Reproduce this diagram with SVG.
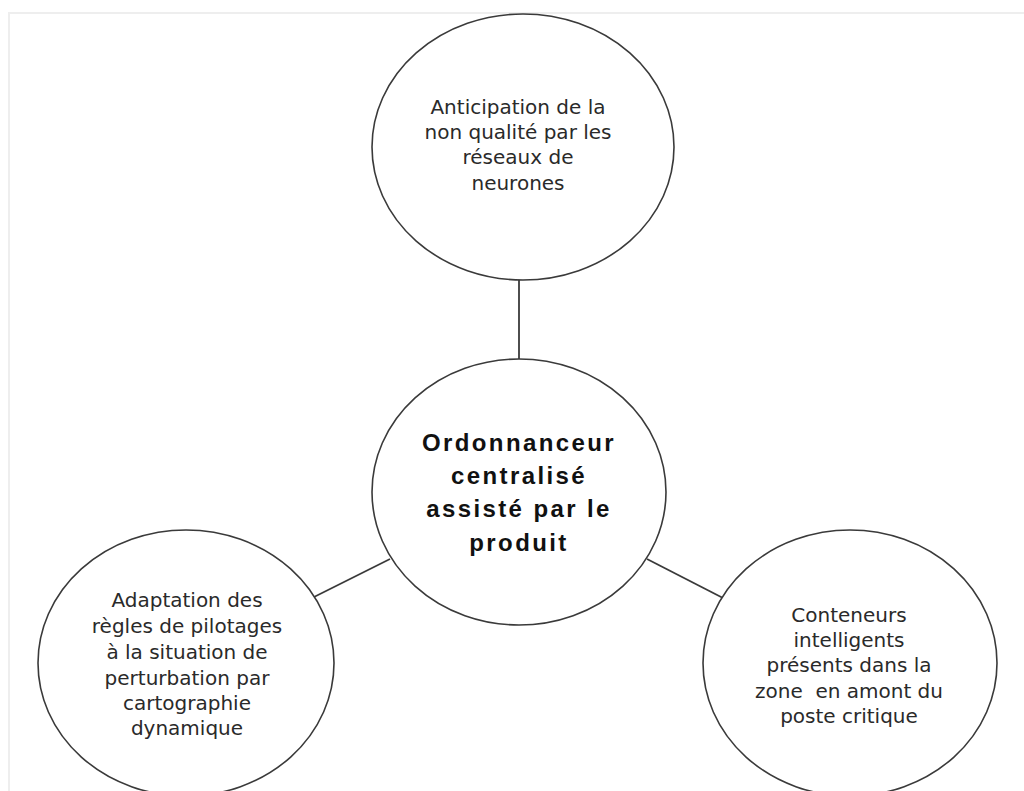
<svg xmlns="http://www.w3.org/2000/svg" width="1024" height="791" viewBox="0 0 1024 791">
<style>
.node{fill:#ffffff;stroke:#3a3a3a;stroke-width:1.6}
.edge{stroke:#3a3a3a;stroke-width:1.8;fill:none}
.lbl{font-family:"DejaVu Sans","Liberation Sans",sans-serif;font-size:20px;fill:#2a2a2a;text-anchor:middle}
.main{font-family:"Liberation Sans",Arial,sans-serif;font-size:24px;font-weight:bold;fill:#111;text-anchor:middle;letter-spacing:2.4px}
</style>
<rect x="0" y="0" width="1024" height="791" fill="#ffffff"/>
<path d="M9 791 V13 H1024" fill="none" stroke="#eeeeee" stroke-width="2"/>
<g id="connectors">
<line class="edge" x1="519" y1="279" x2="519" y2="360"/>
<line class="edge" x1="314" y1="597" x2="390" y2="559"/>
<line class="edge" x1="647" y1="559" x2="723" y2="598"/>
</g>
<g id="node-top">
<ellipse class="node" cx="523" cy="147" rx="151" ry="133"/>
<text class="lbl"><tspan x="518" y="114">Anticipation de la</tspan><tspan x="518" y="139">non qualité par les</tspan><tspan x="518" y="164">réseaux de</tspan><tspan x="518" y="190">neurones</tspan></text>
</g>
<g id="node-center">
<ellipse class="node" cx="519" cy="492" rx="147" ry="133"/>
<text class="main"><tspan x="519" y="451">Ordonnanceur</tspan><tspan x="519" y="484">centralisé</tspan><tspan x="519" y="517">assisté par le</tspan><tspan x="519" y="551">produit</tspan></text>
</g>
<g id="node-left">
<ellipse class="node" cx="186" cy="663" rx="148" ry="133"/>
<text class="lbl"><tspan x="187" y="607">Adaptation des</tspan><tspan x="187" y="633">règles de pilotages</tspan><tspan x="187" y="659">à la situation de</tspan><tspan x="187" y="685">perturbation par</tspan><tspan x="187" y="710">cartographie</tspan><tspan x="187" y="735">dynamique</tspan></text>
</g>
<g id="node-right">
<ellipse class="node" cx="850" cy="663" rx="147" ry="133"/>
<text class="lbl"><tspan x="849" y="622">Conteneurs</tspan><tspan x="849" y="647">intelligents</tspan><tspan x="849" y="672">présents dans la</tspan><tspan x="849" y="698" xml:space="preserve">zone  en amont du</tspan><tspan x="849" y="723">poste critique</tspan></text>
</g>
</svg>
